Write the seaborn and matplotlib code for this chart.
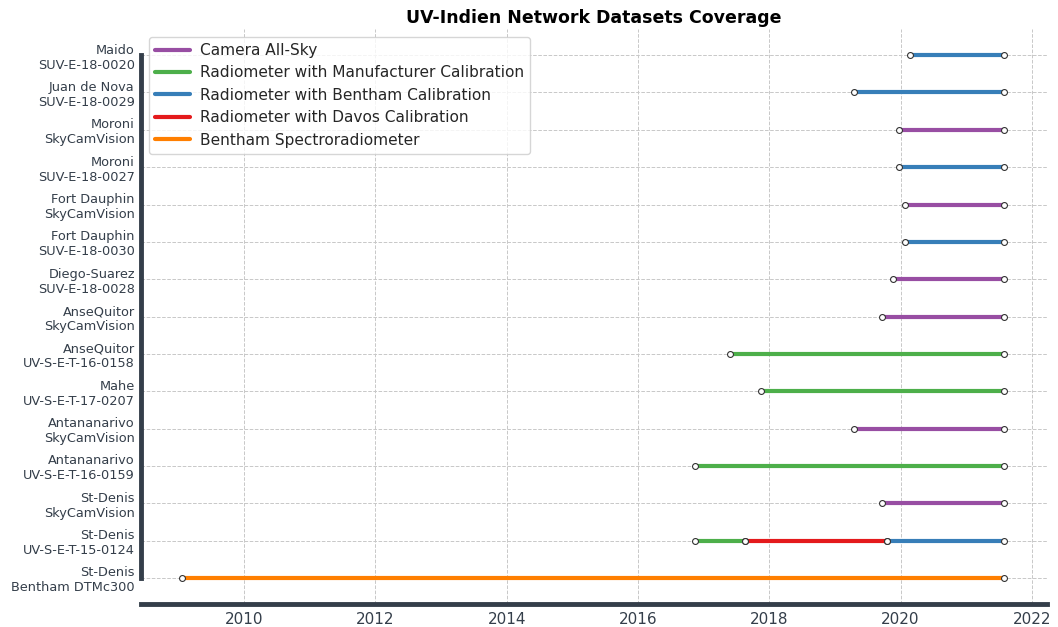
import matplotlib
matplotlib.use('Agg')
import matplotlib.pyplot as plt
import numpy as np
import pandas as pd
import seaborn as sns

# station / instrument rows, bottom to top
stations = [
    'St-Denis\nBentham DTMc300',
    'St-Denis\nUV-S-E-T-15-0124',
    'St-Denis\nSkyCamVision',
    'Antananarivo\nUV-S-E-T-16-0159',
    'Antananarivo\nSkyCamVision',
    'Mahe\nUV-S-E-T-17-0207',
    'AnseQuitor\nUV-S-E-T-16-0158',
    'AnseQuitor\nSkyCamVision',
    'Diego-Suarez\nSUV-E-18-0028',
    'Fort Dauphin\nSUV-E-18-0030',
    'Fort Dauphin\nSkyCamVision',
    'Moroni\nSUV-E-18-0027',
    'Moroni\nSkyCamVision',
    'Juan de Nova\nSUV-E-18-0029',
    'Maido\nSUV-E-18-0020',
]

types = ['Camera All-Sky',
         'Radiometer with Manufacturer Calibration',
         'Radiometer with Bentham Calibration',
         'Radiometer with Davos Calibration',
         'Bentham Spectroradiometer']
colors = ['#984ea3', '#4daf4a', '#377eb8', '#e41a1c', '#ff7f00']

# coverage segments (decimal years)
seg_station = [0, 1, 1, 1, 2, 3, 4, 5, 6, 7, 8, 9, 10, 11, 12, 13, 14]
seg_type = [4, 1, 3, 2, 0, 1, 0, 1, 1, 0, 0, 2, 0, 2, 0, 2, 2]
seg_start = [2009.06, 2016.87, 2017.63, 2019.79, 2019.72, 2016.87, 2019.29,
             2017.87, 2017.40, 2019.72, 2019.88, 2020.07, 2020.07, 2019.97,
             2019.97, 2019.29, 2020.14]
seg_end = [2021.57, 2017.63, 2019.79, 2021.57, 2021.57, 2021.57, 2021.57,
           2021.57, 2021.57, 2021.57, 2021.57, 2021.57, 2021.57, 2021.57,
           2021.57, 2021.57, 2021.57]

rows = []
for k in range(len(seg_station)):
    for x in (seg_start[k], seg_end[k]):
        rows.append({'seg': k, 'year': x, 'row': seg_station[k],
                     'type': types[seg_type[k]]})
df = pd.DataFrame(rows)

sns.set_style('whitegrid')
plt.rcParams['font.family'] = ['DejaVu Sans']
dark = '#343e4a'

fig = plt.figure(figsize=(10.58, 6.27), dpi=100)
ax = fig.add_axes([0.1333, 0.0367, 0.8563, 0.917])

sns.lineplot(data=df, x='year', y='row', hue='type', hue_order=types,
             palette=colors, units='seg', estimator=None, sort=False,
             linewidth=3, ax=ax, zorder=2)
sns.scatterplot(data=df, x='year', y='row', color='white', edgecolor='#333333',
                linewidth=0.8, s=18, ax=ax, zorder=3, legend=False)

ax.set_xlim(2008.43, 2022.23)
ax.set_ylim(-0.7, len(stations) - 1 + 0.7)
ax.set_xticks(np.arange(2010, 2023, 2))
ax.set_yticks(range(len(stations)))
ax.set_yticklabels(stations)
ax.set_xlabel('')
ax.set_ylabel('')
ax.set_title('UV-Indien Network Datasets Coverage', fontsize=12.5,
             fontweight='bold', color='black', pad=4)

ax.grid(True, linestyle='--', color='#c8c8c8', linewidth=0.7)
ax.tick_params(axis='y', labelsize=9.3, colors=dark, length=0, pad=4.5)
ax.tick_params(axis='x', labelsize=11, colors=dark, length=0, pad=6)
for s in ['top', 'right']:
    ax.spines[s].set_visible(False)
for s in ['left', 'bottom']:
    ax.spines[s].set_color(dark)
    ax.spines[s].set_linewidth(3.5)
ax.spines['left'].set_bounds(0, len(stations) - 1)

leg = ax.legend(loc='upper left', fontsize=11.1, frameon=True,
                bbox_to_anchor=(0.0, 1.0), borderaxespad=0.5,
                handlelength=2.3, handletextpad=0.6, labelspacing=0.48)
for h in leg.get_lines():
    h.set_linewidth(3)

fig.savefig('out.png', dpi=100)
